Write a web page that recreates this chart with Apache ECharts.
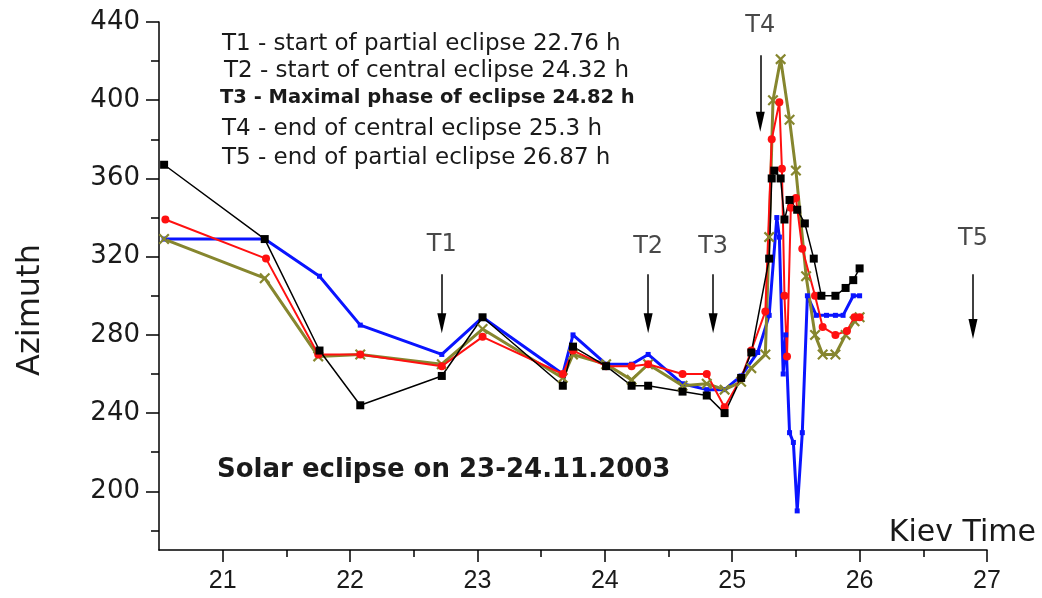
<!DOCTYPE html>
<html>
<head>
<meta charset="utf-8">
<script src="https://cdn.jsdelivr.net/npm/echarts@6/dist/echarts.min.js"></script>
<style>
  html, body { margin: 0; padding: 0; background: #fff; }
  #chart { width: 1042px; height: 598px; }
</style>
</head>
<body>
<div id="chart"></div>
<script>
// axis ticks
const xMajor = [21, 22, 23, 24, 25, 26, 27]
const xMinor = [21.5, 22.5, 23.5, 24.5, 25.5, 26.5]
const yMajor = [200, 240, 280, 320, 360, 400, 440]
const yMinor = [180, 220, 260, 300, 340, 380, 420]

// black series (squares)
const blackT = [20.54, 21.33, 21.76, 22.08, 22.72, 23.04, 23.67, 23.75, 24.01, 24.21, 24.34, 24.61, 24.80, 24.94, 25.07, 25.15, 25.29, 25.31, 25.33, 25.38, 25.41, 25.45, 25.51, 25.57, 25.64, 25.70, 25.81, 25.89, 25.95, 26.00]
const blackAz = [367, 329, 272, 244, 259, 289, 254, 274, 264, 254, 254, 251, 249, 240, 258, 271, 319, 360, 364, 360, 339, 349, 344, 337, 319, 300, 300, 304, 308, 314]

// blue series (small squares)
const blueT = [20.54, 21.33, 21.76, 22.08, 22.72, 23.04, 23.67, 23.75, 24.01, 24.21, 24.34, 24.61, 24.80, 24.94, 25.07, 25.20, 25.29, 25.35, 25.37, 25.40, 25.42, 25.45, 25.48, 25.51, 25.55, 25.59, 25.66, 25.74, 25.81, 25.87, 25.95, 26.00]
const blueAz = [329, 329, 310, 285, 270, 289, 260, 280, 265, 265, 270, 255, 252, 252, 259, 271, 290, 340, 330, 260, 280, 230, 225, 190, 230, 300, 290, 290, 290, 290, 300, 300]

// red series (circles)
const redT = [20.55, 21.34, 21.75, 22.08, 22.72, 23.04, 23.67, 23.75, 24.01, 24.21, 24.34, 24.61, 24.80, 24.94, 25.07, 25.15, 25.26, 25.31, 25.37, 25.39, 25.41, 25.43, 25.46, 25.50, 25.55, 25.65, 25.71, 25.81, 25.90, 25.96, 26.00]
const redAz = [339, 319, 270, 270, 264, 279, 260, 272, 264, 264, 265, 260, 260, 243, 258, 272, 292, 380, 399, 365, 300, 269, 345, 350, 324, 300, 284, 280, 282, 289, 289]

// olive series (crosses)
const oliveT = [20.54, 21.33, 21.75, 22.08, 22.72, 23.04, 23.67, 23.75, 24.01, 24.21, 24.34, 24.61, 24.80, 24.94, 25.07, 25.15, 25.26, 25.29, 25.32, 25.38, 25.45, 25.50, 25.58, 25.65, 25.71, 25.81, 25.89, 25.96, 26.00]
const oliveAz = [329, 309, 269, 270, 265, 283, 258, 270, 265, 257, 265, 254, 255, 252, 256, 263, 270, 330, 400, 421, 390, 364, 310, 280, 270, 270, 280, 287, 289]

// eclipse moments (arrows)
const eventNames = ['T1', 'T2', 'T3', 'T4', 'T5']
const eventT = [22.72, 24.34, 24.85, 25.22, 26.89]
const arrowTop = [311, 311, 311, 423, 311]
const arrowTip = [281, 281, 281, 384, 278]
const labelAz = [326, 325, 325, 438, 329]

const notes = [
  'T1 - start of partial eclipse 22.76 h',
  'T2 - start of central eclipse 24.32 h',
  'T3 - Maximal phase of eclipse 24.82 h',
  'T4 - end of central eclipse 25.3 h',
  'T5 - end of partial eclipse 26.87 h'
]

const FONT = '"DejaVu Sans", "Liberation Sans", sans-serif'
const NARROW = '"Liberation Sans Narrow", "Liberation Sans", Arial, sans-serif'
const TXT = '#1a1a1a'
const crossPath = 'path://M0,1.4L1.4,0L5,3.6L8.6,0L10,1.4L6.4,5L10,8.6L8.6,10L5,6.4L1.4,10L0,8.6L3.6,5Z'

function pairs (t, v) {
  return t.map((x, i) => [x, v[i]])
}

function lineSeries (name, t, v, color, width, symbol, size) {
  return {
    name: name,
    type: 'line',
    data: pairs(t, v),
    symbol: symbol,
    symbolSize: size,
    showAllSymbol: true,
    lineStyle: { color: color, width: width },
    itemStyle: { color: color },
    z: 3
  }
}

const chart = echarts.init(document.getElementById('chart'))

// arrows as markLine pairs, head shifted so its tip lands on arrowTip
const arrowLines = eventT.map((x, i) => [
  { coord: [x, arrowTop[i]], symbol: 'none' },
  { coord: [x, arrowTip[i] + 5], symbol: 'triangle', symbolSize: [9, 20] }
])

const option = {
  animation: false,
  backgroundColor: '#fff',
  grid: { left: 159, right: 55, top: 22, bottom: 48, outerBoundsMode: 'none' },
  xAxis: [{
    type: 'value',
    min: 20.5,
    max: 27,
    axisLine: { show: true, onZero: false, lineStyle: { color: '#000', width: 1.5 } },
    axisTick: { show: true, customValues: xMajor, length: 12, lineStyle: { color: '#000', width: 1.5 } },
    axisLabel: { customValues: xMajor, margin: 19, fontFamily: NARROW, fontSize: 25, color: TXT },
    splitLine: { show: false }
  }, {
    type: 'value',
    min: 20.5,
    max: 27,
    position: 'bottom',
    axisLine: { show: false },
    axisTick: { show: true, customValues: xMinor, length: 7, lineStyle: { color: '#000', width: 1.5 } },
    axisLabel: { show: false },
    splitLine: { show: false }
  }],
  yAxis: [{
    type: 'value',
    min: 170,
    max: 440,
    axisLine: { show: true, onZero: false, lineStyle: { color: '#000', width: 1.5 } },
    axisTick: { show: true, customValues: yMajor, length: 13, lineStyle: { color: '#000', width: 1.5 } },
    axisLabel: { customValues: yMajor, margin: 19, fontFamily: FONT, fontSize: 26, color: TXT },
    splitLine: { show: false }
  }, {
    type: 'value',
    min: 170,
    max: 440,
    position: 'left',
    axisLine: { show: false },
    axisTick: { show: true, customValues: yMinor, length: 8, lineStyle: { color: '#000', width: 1.5 } },
    axisLabel: { show: false },
    splitLine: { show: false }
  }],
  series: [
    lineSeries('blue', blueT, blueAz, '#0a14ff', 3, 'rect', 5),
    lineSeries('olive', oliveT, oliveAz, '#86862e', 3, crossPath, 11),
    lineSeries('red', redT, redAz, '#ff1010', 2, 'circle', 8),
    lineSeries('black', blackT, blackAz, '#000000', 1.5, 'rect', 8),
    {
      name: 'arrows',
      type: 'line',
      data: [],
      markLine: {
        silent: true,
        animation: false,
        label: { show: false },
        lineStyle: { color: '#000', width: 1.5, type: 'solid' },
        emphasis: { disabled: true },
        data: arrowLines
      }
    },
    {
      name: 'eventLabels',
      type: 'scatter',
      symbolSize: 1,
      itemStyle: { color: 'rgba(0,0,0,0)' },
      silent: true,
      data: eventT.map((x, i) => [x, labelAz[i], eventNames[i]]),
      label: {
        show: true,
        position: 'inside',
        formatter: p => p.data[2],
        fontFamily: FONT,
        fontSize: 24,
        color: TXT
      }
    }
  ],
  graphic: [
    ...notes.map((s, i) => ({
      type: 'text',
      x: [222, 224, 220, 222, 222][i],
      y: [44, 71, 98, 129, 158][i],
      style: {
        text: s,
        font: (i === 2 ? 'bold 19.5px ' : '23px ') + FONT,
        fill: TXT,
        verticalAlign: 'middle'
      }
    })),
    {
      type: 'text',
      x: 217,
      y: 470,
      style: { text: 'Solar eclipse on 23-24.11.2003', font: 'bold 26px ' + FONT, fill: TXT, verticalAlign: 'middle' }
    },
    {
      type: 'text',
      x: 1036,
      y: 533,
      style: { text: 'Kiev Time', font: '30px ' + FONT, fill: TXT, align: 'right', verticalAlign: 'middle' }
    },
    {
      type: 'text',
      x: 31,
      y: 310,
      rotation: Math.PI / 2,
      style: { text: 'Azimuth', font: '32px ' + FONT, fill: TXT, align: 'center', verticalAlign: 'middle' }
    }
  ]
}

chart.setOption(option)
</script>
</body>
</html>
